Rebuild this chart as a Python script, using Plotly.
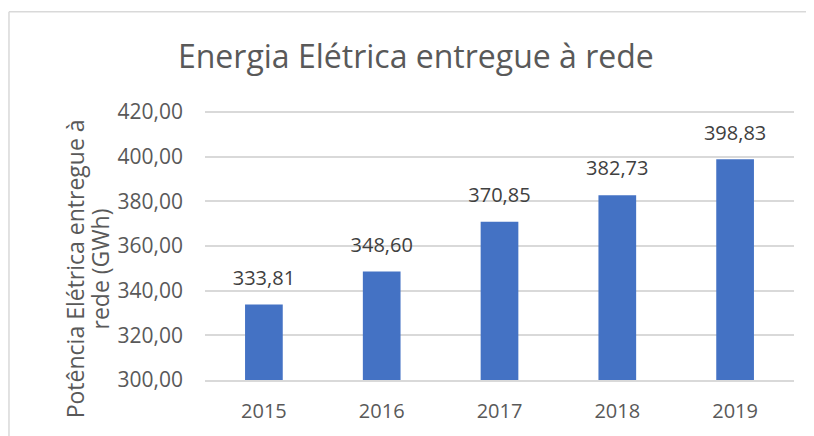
import plotly.graph_objects as go

anos = ["2015", "2016", "2017", "2018", "2019"]
energia_gwh = [333.81, 348.60, 370.85, 382.73, 398.83]
y_ticks = [300, 320, 340, 360, 380, 400, 420]
titulo_y = ["Potência Elétrica entregue à", "rede (GWh)"]

azul = "#4472C4"
cinza_texto = "#595959"
cinza_grade = "#D9D9D9"
fonte = "Open Sans"

fig = go.Figure()

fig.add_trace(
    go.Bar(
        x=anos,
        y=energia_gwh,
        marker=dict(color=azul, line=dict(width=0)),
        name="Energia",
        showlegend=False,
    )
)

# rótulos de dados: marcador invisível só para afastar o texto da barra
fig.add_trace(
    go.Scatter(
        x=anos,
        y=energia_gwh,
        mode="markers+text",
        marker=dict(size=22, opacity=0),
        texttemplate="%{y:.2f}",
        textposition="top center",
        textfont=dict(family=fonte, size=20, color="#404040"),
        hoverinfo="skip",
        showlegend=False,
        cliponaxis=False,
    )
)

# título do eixo y, uma anotação por linha
for pos_x, linha in zip([-0.2207, -0.178], titulo_y):
    fig.add_annotation(
        xref="paper", yref="paper",
        x=pos_x, y=0.41,
        text=linha,
        textangle=-90,
        showarrow=False,
        xanchor="center", yanchor="middle",
        font=dict(family=fonte, size=23, color=cinza_texto),
    )

# borda da área do gráfico (só as arestas visíveis: esquerda e topo)
fig.add_shape(
    type="line", xref="paper", yref="paper",
    x0=-0.3328, x1=-0.3328, y0=-0.3, y1=1.364,
    line=dict(color=cinza_grade, width=1.5),
    layer="below",
)
fig.add_shape(
    type="line", xref="paper", yref="paper",
    x0=-0.3328, x1=1.1, y0=1.364, y1=1.364,
    line=dict(color=cinza_grade, width=1.5),
    layer="below",
)

fig.update_layout(
    width=806,
    height=428,
    margin=dict(l=197, r=20, t=102, b=54),
    paper_bgcolor="white",
    plot_bgcolor="white",
    separators=",.",
    bargap=0.68,
    title=dict(
        text="Energia Elétrica entregue à rede",
        x=0.506, xanchor="center",
        y=0.8855, yanchor="middle",
        font=dict(family=fonte, size=32, color=cinza_texto),
    ),
    font=dict(family=fonte, color=cinza_texto),
)

fig.update_yaxes(
    range=[300, 420.9],
    tickvals=y_ticks,
    tickformat=".2f",
    showgrid=True,
    gridcolor=cinza_grade,
    gridwidth=1.5,
    zeroline=False,
    showline=False,
    ticks="",
    ticklabelstandoff=21,
    tickfont=dict(family=fonte, size=21, color=cinza_texto),
)

fig.update_xaxes(
    type="category",
    showline=True,
    linecolor=cinza_grade,
    linewidth=1.5,
    ticks="",
    ticklabelstandoff=12,
    tickfont=dict(family=fonte, size=20, color=cinza_texto),
)

fig.write_html("out.html")
